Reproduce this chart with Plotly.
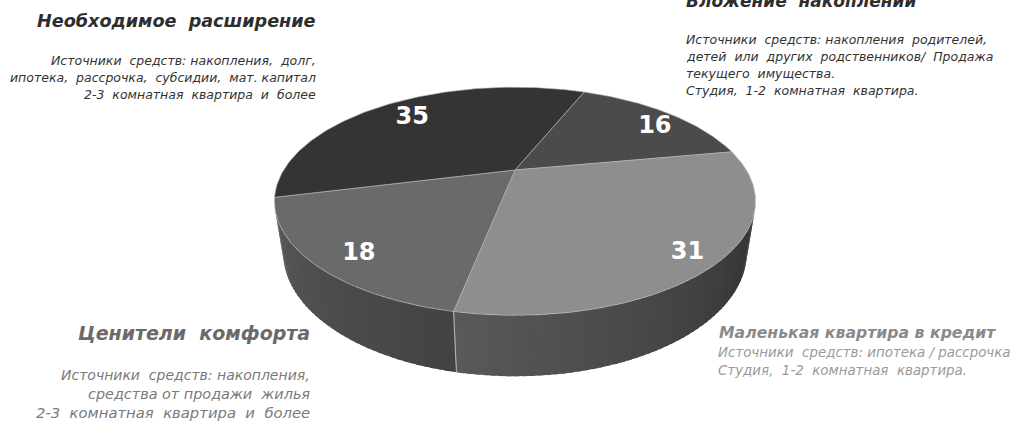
import numpy as np
import plotly.graph_objects as go

# ---------------- data ----------------
categories = ["Вложение накоплений", "Маленькая квартира в кредит",
              "Ценители комфорта", "Необходимое расширение"]
values = [16, 31, 18, 35]
slice_labels = ["16", "31", "18", "35"]
top_colors = [75, 142, 106, 52]          # grey level of each slice top

titles = ["Вложение  накоплений", "Маленькая квартира в кредит",
          "Ценители  комфорта", "Необходимое  расширение"]
descriptions = [
    ["Источники  средств: накопления  родителей,",
     "детей  или  других  родственников/  Продажа",
     "текущего  имущества.",
     "Студия,  1-2  комнатная  квартира."],
    ["Источники  средств: ипотека / рассрочка",
     "Студия,  1-2  комнатная  квартира."],
    ["Источники  средств: накопления,",
     "средства от продажи  жилья",
     "2-3  комнатная  квартира  и  более"],
    ["Источники  средств: накопления,  долг,",
     "ипотека,  рассрочка,  субсидии,  мат. капитал",
     "2-3  комнатная  квартира  и  более"],
]

# ---------------- 3D pie geometry (layout settings) ----------------
START_ANGLE = 22.0          # degrees, clockwise from the far side
CX, CY, SCALE = 515.0, 170.0, 752.0
DIST = 3.25
TILT = np.arcsin(0.456)
S_T, C_T = np.sin(TILT), np.cos(TILT)
DEPTH = 0.25
LABEL_R = 0.85
LABEL_DX, LABEL_DY = 7.0, 6.0


def proj(X, Y, Z):
    den = DIST + Z * C_T - Y * S_T
    u = X / den
    v = (Y * C_T + Z * S_T) / den
    return CX + SCALE * u, CY - SCALE * v


def grey(level):
    level = int(max(0, min(255, round(level))))
    return f"rgb({level},{level},{level})"


total = float(sum(values))
bounds = [START_ANGLE]
for v in values:
    bounds.append(bounds[-1] + 360.0 * v / total)

fig = go.Figure()

# visible front wall: outward normal faces the camera
cam_z = -DIST * C_T
cos_lim = -1.0 / (-cam_z)
vis_lo = np.degrees(np.arccos(cos_lim))
vis_hi = 360.0 - vis_lo


def shade(theta):
    return 0.32 + 0.00338 * (theta - 100.0)


for i, v in enumerate(values):
    a0, a1 = bounds[i], bounds[i + 1]
    lo, hi = max(a0, vis_lo), min(a1, vis_hi)
    if hi <= lo:
        continue
    steps = np.linspace(lo, hi, int((hi - lo) / 1.5) + 2)
    step = steps[1] - steps[0]
    for k in range(len(steps) - 1):
        d0 = steps[k]
        d1 = min(steps[k + 1] + 0.6 * step, hi)
        th = np.radians(np.linspace(d0, d1, 4))
        tx, ty = proj(np.sin(th), 0.0 * th, np.cos(th))
        bx, by = proj(np.sin(th), -DEPTH + 0.0 * th, np.cos(th))
        xs = list(tx) + list(bx[::-1]) + [tx[0]]
        ys = list(ty) + list(by[::-1]) + [ty[0]]
        col = grey(top_colors[i] * shade(0.5 * (steps[k] + steps[k + 1])))
        fig.add_trace(go.Scatter(x=xs, y=ys, mode="lines",
                                 fill="toself", fillcolor=col,
                                 line=dict(color=col, width=0),
                                 hoverinfo="skip", showlegend=False))
    for edge in (a0, a1):
        if vis_lo < edge < vis_hi:
            t = np.radians(edge)
            p0 = proj(np.sin(t), 0.0, np.cos(t))
            p1 = proj(np.sin(t), -DEPTH, np.cos(t))
            fig.add_trace(go.Scatter(x=[p0[0], p1[0]], y=[p0[1], p1[1]], mode="lines",
                                     line=dict(color="rgba(190,190,190,0.8)", width=1),
                                     hoverinfo="skip", showlegend=False))

# top faces
for i, v in enumerate(values):
    a0, a1 = bounds[i], bounds[i + 1]
    th = np.radians(np.linspace(a0, a1, 120))
    px, py = proj(np.sin(th), 0.0 * th, np.cos(th))
    ax, ay = proj(0.0, 0.0, 0.0)
    xs = [ax] + list(px) + [ax]
    ys = [ay] + list(py) + [ay]
    fig.add_trace(go.Scatter(x=xs, y=ys, mode="lines", fill="toself",
                             fillcolor=grey(top_colors[i]),
                             line=dict(color="rgba(185,185,185,0.75)", width=0.8),
                             hoverinfo="skip", showlegend=False))

# value labels
lx, ly = [], []
for i, v in enumerate(values):
    m = np.radians(0.5 * (bounds[i] + bounds[i + 1]))
    px, py = proj(LABEL_R * np.sin(m), 0.0, LABEL_R * np.cos(m))
    lx.append(px + LABEL_DX)
    ly.append(py + LABEL_DY)
fig.add_trace(go.Scatter(x=lx, y=ly, mode="text", text=slice_labels,
                         textfont=dict(family="DejaVu Sans", size=24, color="white",
                                       weight="bold"),
                         hoverinfo="skip", showlegend=False))

# ---------------- texts ----------------
title_style = [
    dict(x=684, y=1, anchor="left", size=17, color="#2e2e2e"),
    dict(x=717, y=332, anchor="left", size=15.7, color="#8a8a8a"),
    dict(x=312, y=333, anchor="right", size=19, color="#6a6a6a"),
    dict(x=318, y=21, anchor="right", size=17.6, color="#2e2e2e"),
]
desc_style = [
    dict(x=684, y=[39, 56, 73, 90], anchor="left", size=[12.5] * 4, color="#333333"),
    dict(x=716, y=[352, 370], anchor="left", size=[13.4, 13.4], color="#9a9a9a"),
    dict(x=312, y=[375, 394, 412], anchor="right", size=[14, 14.4, 14.8], color="#7a7a7a"),
    dict(x=318, y=[60, 77, 94], anchor="right", size=[12.5] * 3, color="#333333"),
]

annotations = []
for i in range(len(titles)):
    ts = title_style[i]
    annotations.append(dict(x=ts["x"], y=ts["y"], xref="x", yref="y", text=titles[i],
                            showarrow=False, xanchor=ts["anchor"], yanchor="middle",
                            font=dict(family="DejaVu Sans", size=ts["size"], color=ts["color"],
                                      weight="bold", style="italic")))
    ds = desc_style[i]
    for j, line in enumerate(descriptions[i]):
        annotations.append(dict(x=ds["x"], y=ds["y"][j], xref="x", yref="y",
                                text=line, showarrow=False, xanchor=ds["anchor"],
                                yanchor="middle",
                                font=dict(family="DejaVu Sans", size=ds["size"][j],
                                          color=ds["color"], style="italic")))

fig.update_layout(
    width=1024, height=421,
    margin=dict(l=0, r=0, t=0, b=0),
    paper_bgcolor="white", plot_bgcolor="white",
    xaxis=dict(range=[0, 1024], visible=False, fixedrange=True),
    yaxis=dict(range=[421, 0], visible=False, fixedrange=True),
    annotations=annotations,
    showlegend=False,
)

fig.write_html("out.html", config={"displayModeBar": False},
               post_script="document.body.style.margin='0';document.body.style.overflow='hidden';")
